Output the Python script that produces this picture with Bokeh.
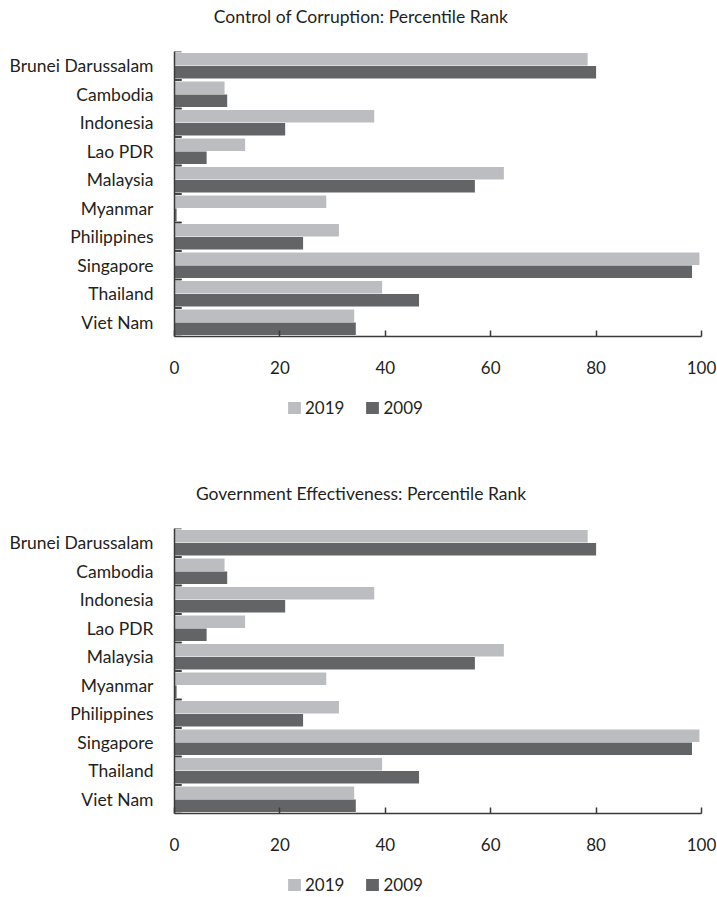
from bokeh.plotting import figure
from bokeh.models import (ColumnDataSource, FactorRange, Range1d, Legend, LegendItem,
                          FixedTicker, Label)
from bokeh.transform import dodge
from bokeh.layouts import column
from bokeh.embed import file_html
from bokeh.resources import INLINE

countries = ["Brunei Darussalam", "Cambodia", "Indonesia", "Lao PDR", "Malaysia",
             "Myanmar", "Philippines", "Singapore", "Thailand", "Viet Nam"]
cc_2019 = [78.4, 9.5, 37.9, 13.4, 62.5, 28.8, 31.2, 99.6, 39.4, 34.1]
cc_2009 = [80.0, 10.0, 21.0, 6.1, 57.0, 0.4, 24.4, 98.2, 46.4, 34.4]
ge_2019 = [78.4, 9.5, 37.9, 13.4, 62.5, 28.8, 31.2, 99.6, 39.4, 34.1]
ge_2009 = [80.0, 10.0, 21.0, 6.1, 57.0, 0.4, 24.4, 98.2, 46.4, 34.4]
x_ticks = [0, 20, 40, 60, 80, 100]
series = ["2019", "2009"]
titles = ["Control of Corruption: Percentile Rank",
          "Government Effectiveness: Percentile Rank"]

LIGHT = "#bcbdc0"
DARK = "#636466"
AXIS = "#3a3a3a"
TEXT = "#231f20"
FONT = "Lato"
W_LEFT, W_FRAME, W_RIGHT = 174, 527, 15


def blank(height):
    f = figure(width=W_LEFT + W_FRAME + W_RIGHT, height=height,
               x_range=Range1d(0, 1), y_range=Range1d(0, 1),
               x_axis_type=None, y_axis_type=None,
               output_backend="svg", toolbar_location=None,
               min_border=0, outline_line_color=None)
    f.xgrid.visible = False
    f.ygrid.visible = False
    return f


def make_title(text, height, y_px):
    tf = blank(height)
    tf.add_layout(Label(x=186.5, y=y_px, x_units="screen", y_units="screen",
                        text=text, text_align="center", text_baseline="middle",
                        text_font=FONT, text_font_size="17.5px", text_color=TEXT))
    return tf


def make_chart(v19, v09):
    src = ColumnDataSource(dict(country=countries, v19=v19, v09=v09))
    p = figure(frame_width=W_FRAME, frame_height=285,
               y_range=FactorRange(*reversed(countries)),
               x_range=Range1d(0, 100),
               output_backend="svg", toolbar_location=None,
               min_border_left=W_LEFT, min_border_right=W_RIGHT,
               min_border_top=15, min_border_bottom=50,
               outline_line_color=None)
    p.hbar(y=dodge("country", 0.225, range=p.y_range), left=0, right="v19",
           height=0.44, source=src, fill_color=LIGHT, line_color=None)
    p.hbar(y=dodge("country", -0.225, range=p.y_range), left=0, right="v09",
           height=0.44, source=src, fill_color=DARK, line_color=None)
    # category boundary tick marks
    for off in (0.5, -0.5):
        p.segment(x0=0, x1=1.35, y0=dodge("country", off, range=p.y_range),
                  y1=dodge("country", off, range=p.y_range), source=src,
                  line_color=AXIS, line_width=1.5)

    p.xgrid.visible = False
    p.ygrid.visible = False

    p.xaxis.ticker = FixedTicker(ticks=x_ticks)
    p.xaxis.major_tick_in = 6
    p.xaxis.major_tick_out = 0
    p.xaxis.minor_tick_line_color = None
    p.xaxis.major_label_standoff = 24
    p.xaxis.major_tick_line_color = AXIS
    p.xaxis.major_tick_line_width = 1.5
    p.xaxis.major_label_text_font_size = "17px"
    p.yaxis.major_tick_line_color = None
    p.yaxis.major_tick_out = 0
    p.yaxis.major_tick_in = 0
    p.yaxis.major_label_standoff = 21
    p.yaxis.major_label_text_font_size = "17.5px"
    for ax in (p.xaxis, p.yaxis):
        ax.axis_line_color = AXIS
        ax.axis_line_width = 1.5
        ax.major_label_text_font = FONT
        ax.major_label_text_color = TEXT
    return p


def make_legend(height, x_px, y_px):
    lf = blank(height)
    # zero-size placeholder glyphs, only used for the legend swatches
    holder = ColumnDataSource(dict(y=[0.0], w=[0.0]))
    r19 = lf.hbar(y="y", right="w", left="w", height=0.0, source=holder,
                  fill_color=LIGHT, line_color=None)
    r09 = lf.hbar(y="y", right="w", left="w", height=0.0, source=holder,
                  fill_color=DARK, line_color=None)
    leg = Legend(items=[LegendItem(label=series[0], renderers=[r19]),
                        LegendItem(label=series[1], renderers=[r09])],
                 orientation="horizontal", location=(x_px, y_px),
                 border_line_color=None, background_fill_alpha=0,
                 glyph_width=16, glyph_height=15, label_standoff=3, spacing=20,
                 label_text_font=FONT, label_text_font_size="17px",
                 label_text_color=TEXT, padding=0, margin=0)
    lf.add_layout(leg, "center")
    return lf


t1 = make_title(titles[0], 36, 20)
p1 = make_chart(cc_2019, cc_2009)
l1 = make_legend(78, 112, 46)
t2 = make_title(titles[1], 49, 20)
p2 = make_chart(ge_2019, ge_2009)
l2 = make_legend(32, 112, 0)
layout = column(t1, p1, l1, t2, p2, l2, spacing=0)
open("out.html", "w").write(file_html(layout, INLINE))
